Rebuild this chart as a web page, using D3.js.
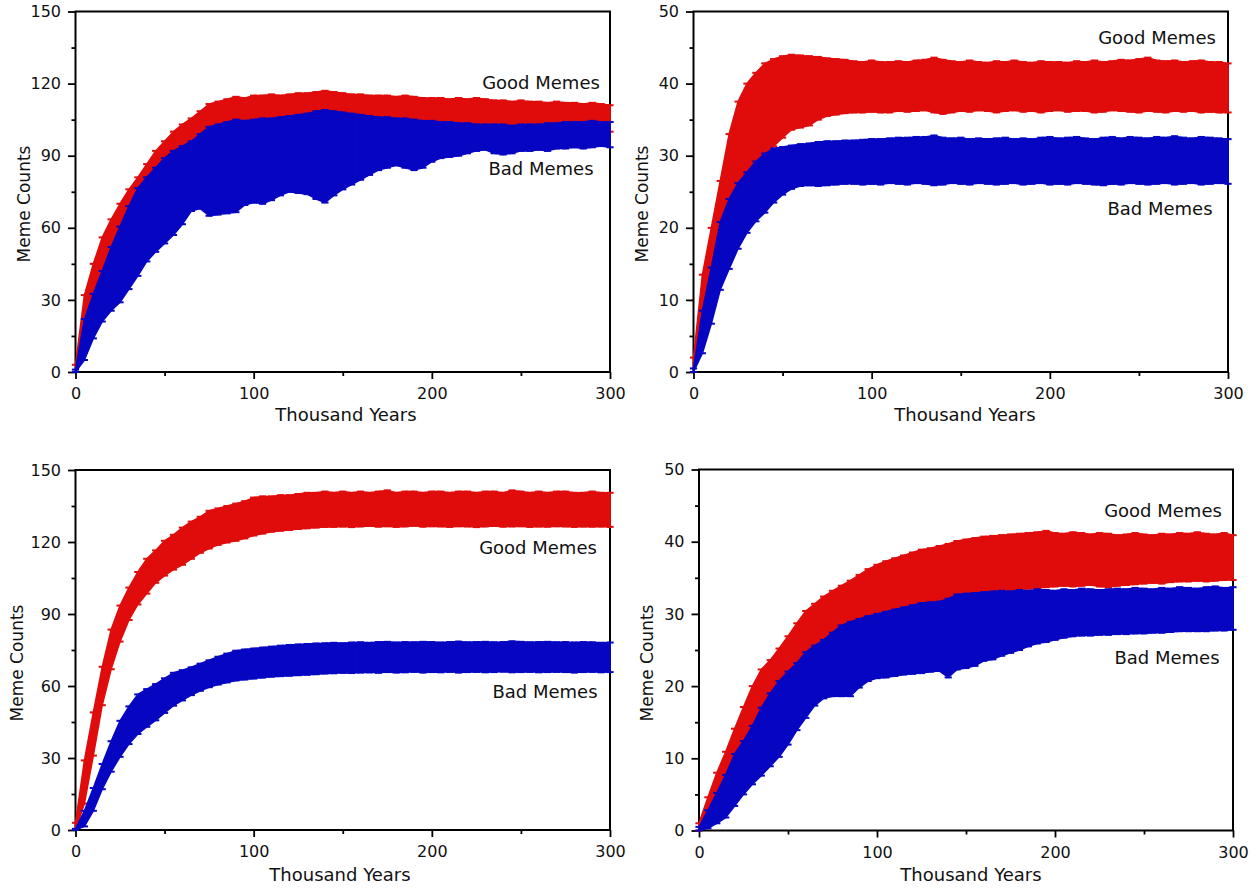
<!DOCTYPE html>
<html><head><meta charset="utf-8">
<script src="https://cdn.jsdelivr.net/npm/d3@7"></script>
<style>
body{margin:0;background:#fff;}
svg text{font-family:"DejaVu Sans",sans-serif;fill:#111;}
</style>
</head><body>
<svg id="chart" width="1257" height="890"></svg>
<script>
// ---- data (thousand years; lower / upper ends of error bars) ----
const years = [0,5,10,15,20,25,30,35,40,45,50,55,60,65,70,75,80,85,90,95,100,105,110,115,120,125,130,135,140,145,150,155,160,165,170,175,180,185,190,195,200,205,210,215,220,225,230,235,240,245,250,255,260,265,270,275,280,285,290,295,300];
const seriesNames = ["Good Memes","Bad Memes"];
const xTickLabels = [0,100,200,300];
const yTicksLarge = [0,30,60,90,120,150];
const yTicksSmall = [0,10,20,30,40,50];

// panel A (top left)
const aGoodHi = [3,32,45,56,63.5,70,76,81,86.5,92,
 96,100,103,105.5,108.5,111.5,112.5,113.5,114.5,114,
 115,115,115.5,115,115.5,116,116,116.5,117,116.5,
 116,115.5,115.5,115,115,115,114.5,115,114.5,114,
 114,114,113.5,114,113.5,114,113.5,113,113,112.5,
 113,112.5,112.5,112,112.5,112,112,111.5,112,111.5,
 111];
const aGoodLo = [0,17,27,36,44,51,58,65,70,74,
 80,84,87,90,93,96,98,99,100,100,
 101,101,101.5,101.5,102,102,102.5,103,103.5,103,
 103,102.5,102,102,101.5,101.5,101,101,100.5,100.5,
 100.5,100,100,99.5,99.5,99.5,99,99,99,98.5,
 99,99,99,99.5,99.5,100,100,100,100.5,100,
 100];
const aBadHi = [1,22,32.5,42,52,60.5,69,76.5,81,85,
 89,92,94,96,99,102,103,104,105,104.5,
 105,105.5,105.5,106,106.5,107,107.5,108.5,109,108.5,
 108,107.5,107,106.5,106,106,105.5,105.5,105,104.5,
 104.5,104,104,103.5,103.5,103,103,103,103,102.5,
 103,103,103,103.5,103.5,104,104,104,104.5,104,
 104];
const aBadLo = [0,5,14,21,25.5,29,34.5,40,46,50,
 53.5,57,61.5,67,68,65,65.5,66,66.5,69.5,
 70.5,70,71.5,73.5,75,74.5,74,72,70.5,73.5,
 76,78,80,82,84,85,86,85,84,85,
 87.5,89,89.5,90,91,92,92.5,91,90.5,91,
 92,92,92.5,92,93,93,93.5,93,93.5,94,
 93.5];

// panel B (top right)
const bGoodHi = [2,13.5,20,26.5,33,37.5,40,41.5,42.8,43.4,
 43.8,44,43.9,43.8,43.7,43.5,43.4,43.3,43.1,43,
 43.2,43,43,43.1,43,43.2,43.3,43.6,43.3,43.1,
 43,43.2,43,42.9,43.1,43,43.2,43,42.9,43.1,
 43,43,42.9,43.1,43,43.2,43,43.1,43.3,43.2,
 43.4,43.6,43.2,43.1,43.2,43,43.1,43.2,43,43,
 42.8];
const bGoodLo = [0,8,12,16,21,24.5,27.5,29.3,30.4,31.3,
 32.5,33.6,33.9,34.2,35,35.5,35.7,35.9,36,36,
 36.1,36,36,36.2,36.1,36.2,36.3,36,35.8,36,
 36.2,36.1,36.3,36.2,36,36.2,36.3,36.1,36.2,36,
 36.2,36.3,36.1,36.2,36.2,36,36.1,36.3,36.2,36.1,
 36,36.2,36.1,36,36.2,36.1,36.2,36,36.1,36,
 36];
const bBadHi = [0.5,8.5,14.5,20.8,24,26.2,27.7,29.2,30.3,31,
 31.2,31.4,31.6,31.7,31.9,32,32,32.1,32.1,32.2,
 32.3,32.3,32.4,32.5,32.5,32.6,32.6,32.8,32.5,32.4,
 32.5,32.3,32.4,32.3,32.4,32.5,32.3,32.4,32.3,32.5,
 32.6,32.4,32.5,32.6,32.4,32.3,32.5,32.6,32.4,32.6,
 32.5,32.4,32.6,32.5,32.7,32.5,32.4,32.6,32.5,32.4,
 32.3];
const bBadLo = [0,2.6,6.7,11.4,14.3,17.1,19.3,20.9,22.1,23.5,
 24.6,25.4,25.8,25.9,25.8,25.9,26,26.1,26.1,26,
 26.1,26,26.2,26.1,26,26.2,26.1,25.9,26,26.2,
 26.1,26,26.2,26.1,26,26.1,26.2,26,26.1,26.2,
 26,26.1,26,26.2,26.1,26,25.9,26.1,26,26.2,
 26.1,26,26.1,26.2,26,26.1,26.2,26,26.1,26.2,
 26.1];

// panel C (bottom left)
const cGoodHi = [3,29,49,68,83.5,93.5,101,107.5,113,116.5,
 120.5,123,126,128.5,130.5,133,134,135,136,137,
 138.5,139,139,139.5,139.5,140,140.5,140.5,141,140.5,
 141,140.5,141,140.5,141,141.5,140.5,141,141,140.5,
 141,141,140.5,141,141,140.5,141,141,140.5,141.5,
 141,140.5,141,140.5,141,141,140.5,140.5,141,140.5,
 140.5];
const cGoodLo = [0,11,31,52,67,78.5,87.5,94,98.5,103,
 106,108.5,110.5,113,115.5,117.3,118.8,119.8,120.5,121.5,
 122.7,123.5,124.3,124.7,125,125.4,125.7,126,126.3,126.3,
 126.5,126.2,126.5,126.7,126.4,126.6,126.3,126.5,126.8,126.4,
 126.6,126.5,126.3,126.6,126.5,126.2,126.5,126.7,126.4,126.5,
 126.6,126.3,126.5,126.4,126.6,126.5,126.3,126.5,126.4,126.5,
 126.3];
const cBadHi = [0.5,8,17.5,27.5,37,45.5,51.5,56.5,58.7,60.8,
 63.2,65.5,66.6,67.8,69.3,70.7,72.2,73.5,74.7,75.2,
 75.6,76,76.4,76.8,77.1,77.3,77.5,77.7,77.8,78,
 77.8,78.1,78.2,78,78.3,78.4,78.1,78.3,78.2,78.4,
 78.3,78.1,78.3,78.5,78.2,78.3,78.4,78.2,78.3,78.6,
 78.4,78.2,78.3,78.4,78.2,78.3,78.1,78.3,78.2,78,
 78.1];
const cBadLo = [0,1.5,8,17,24.3,30.5,35.8,40,43,45.7,
 48.8,51.8,54,56.2,58,59.5,60.6,61.5,62.3,62.7,
 63.1,63.5,63.9,64.1,64.3,64.5,64.7,64.9,65.2,65.3,
 65.5,65.4,65.6,65.7,65.5,65.8,65.6,65.7,65.9,65.6,
 65.8,65.7,65.9,65.6,65.8,65.9,65.7,65.8,66,65.7,
 65.8,65.9,65.7,65.8,65.9,65.8,65.6,65.8,65.9,65.7,
 65.8];

// panel D (bottom right)
const dGoodHi = [1,4.6,8,10.9,14.1,17.1,20,22.3,23.6,25.2,
 26.9,28.7,30.4,31.4,32.4,33.2,33.9,34.6,35.4,36.2,
 36.8,37.3,37.7,38.1,38.5,38.9,39.1,39.4,39.7,40.1,
 40.3,40.5,40.7,40.8,40.9,41,41.1,41.2,41.3,41.5,
 41.2,41.1,41.3,41.2,41,41.2,41.1,40.9,41,41.2,
 41,40.9,41.1,41,41.2,41.1,41.3,41.1,41,41.2,
 40.9];
const dGoodLo = [0,1.5,3,5,7.5,10,12.5,15,17.5,19.5,
 21.5,23,24.5,25.5,26.5,27.3,28,28.6,29.2,29.8,
 30.2,30.4,30.6,30.8,31,31.3,31.5,31.7,32,32.3,
 32.6,32.9,33.1,33.2,33.3,33.3,33.4,33.5,33.6,33.7,
 33.8,33.9,33.8,33.9,34,33.8,33.7,33.9,34,34.1,
 34.2,34.3,34.2,34.4,34.5,34.5,34.6,34.5,34.6,34.7,
 34.7];
const dBadHi = [0.5,2.8,5.2,7.7,10.6,12.4,14.5,17,19,20.7,
 22,23.2,24.7,25.6,26.4,27.4,28.4,28.9,29.3,29.7,
 30,30.3,30.6,30.9,31.2,31.5,31.6,31.7,32.1,32.7,
 32.8,32.9,33,33.1,33.2,33.1,33.3,33.2,33.4,33.3,
 33.2,33.4,33.3,33.5,33.4,33.3,33.4,33.5,33.4,33.6,
 33.5,33.4,33.6,33.5,33.7,33.6,33.5,33.7,33.8,33.6,
 33.7];
const dBadLo = [0,0.3,1,1.8,3.4,5,6.4,7.6,8.9,10.2,
 11.9,13.9,15.6,17.3,18.3,18.6,18.6,18.6,19.8,20.7,
 21.1,21.2,21.4,21.6,21.7,21.8,22,22.1,21.2,22.3,
 22.5,22.8,23.5,23.7,24.2,24.6,25,25.5,25.9,26.1,
 26.4,26.7,26.9,27,27,27.1,27.1,27.2,27.2,27.3,
 27.3,27.4,27.4,27.5,27.6,27.6,27.6,27.6,27.7,27.7,
 27.8];

// ---- layout ----
const RED = "#e00c0c", BLUE = "#0606c2";
const panels = [
  {x0:75.5, x1:610, y0:11.5, y1:372, yMax:150, yTicks:yTicksLarge,
   good:[aGoodLo,aGoodHi], bad:[aBadLo,aBadHi],
   goodLab:[541,83], badLab:[541,169], xTitle:[346,415], yTitle:[24,204]},
  {x0:693.5, x1:1228, y0:11.5, y1:372, yMax:50, yTicks:yTicksSmall,
   good:[bGoodLo,bGoodHi], bad:[bBadLo,bBadHi],
   goodLab:[1157,38], badLab:[1160,209], xTitle:[965,415], yTitle:[642,204]},
  {x0:75.5, x1:610, y0:470, y1:830, yMax:150, yTicks:yTicksLarge,
   good:[cGoodLo,cGoodHi], bad:[cBadLo,cBadHi],
   goodLab:[538,548], badLab:[545,692], xTitle:[340,875], yTitle:[17,663]},
  {x0:699, x1:1233, y0:469.5, y1:830.5, yMax:50, yTicks:yTicksSmall,
   good:[dGoodLo,dGoodHi], bad:[dBadLo,dBadHi],
   goodLab:[1163,511], badLab:[1167,658], xTitle:[971,875], yTitle:[647,663]}
];

const svg = d3.select("#chart");

function styleAxis(g){
  g.select(".domain").remove();
  g.selectAll(".tick line").attr("stroke","#000").attr("stroke-width",1.8);
  g.selectAll(".tick text").attr("font-size",16).attr("font-family","DejaVu Sans").attr("fill","#111");
}

panels.forEach(p => {
  const x = d3.scaleLinear().domain([0,300]).range([p.x0,p.x1]);
  const y = d3.scaleLinear().domain([0,p.yMax]).range([p.y1,p.y0]);
  const g = svg.append("g");

  // frame
  g.append("rect").attr("x",p.x0).attr("y",p.y0)
    .attr("width",p.x1-p.x0).attr("height",p.y1-p.y0)
    .attr("fill","none").attr("stroke","#000").attr("stroke-width",2);

  // y axis: major + minor
  const half = p.yTicks[1]/2;
  const minorY = p.yTicks.slice(0,-1).map(v => v + half);
  g.append("g").attr("transform",`translate(${p.x0},0)`)
    .call(d3.axisLeft(y).tickValues(p.yTicks).tickSize(7.5).tickPadding(7).tickFormat(d3.format("d")))
    .call(styleAxis);
  g.append("g").attr("transform",`translate(${p.x0},0)`)
    .call(d3.axisLeft(y).tickValues(minorY).tickSize(4).tickFormat(""))
    .call(styleAxis);

  // x axis: major + minor
  g.append("g").attr("transform",`translate(0,${p.y1})`)
    .call(d3.axisBottom(x).tickValues(xTickLabels).tickSize(7).tickPadding(9).tickFormat(d3.format("d")))
    .call(styleAxis);
  g.append("g").attr("transform",`translate(0,${p.y1})`)
    .call(d3.axisBottom(x).tickValues([50,150,250]).tickSize(4).tickFormat(""))
    .call(styleAxis);

  // error bars: dense band of bars with caps
  const capW = 3.6;
  [[p.good, RED],[p.bad, BLUE]].forEach(([[lo,hi],col]) => {
    const s = g.append("g");
    const pts = years.map((d,i) => ({k:d, lo:lo[i], hi:hi[i]}));
    s.append("path").datum(pts)
      .attr("d", d3.area().x(d => x(d.k)).y0(d => y(d.lo)).y1(d => y(d.hi)))
      .attr("fill", col).attr("stroke", col).attr("stroke-width", 1.5)
      .attr("stroke-linejoin","round");
    s.selectAll("line.bar").data(pts).join("line").attr("class","bar")
      .attr("x1", d => x(d.k)).attr("x2", d => x(d.k))
      .attr("y1", d => y(d.lo)).attr("y2", d => y(d.hi))
      .attr("stroke", col).attr("stroke-width", 1.2);
    const caps = [];
    pts.forEach(d => { caps.push([d.k,d.hi]); caps.push([d.k,d.lo]); });
    s.selectAll("line.cap").data(caps).join("line").attr("class","cap")
      .attr("x1", d => x(d[0]) - capW)
      .attr("x2", d => x(d[0]) + capW)
      .attr("y1", d => y(d[1]))
      .attr("y2", d => y(d[1]))
      .attr("stroke", col).attr("stroke-width", 2);
  });

  // series labels
  g.append("text").attr("x",p.goodLab[0]).attr("y",p.goodLab[1]).attr("dy","0.36em")
    .attr("text-anchor","middle").attr("font-size",18).text(seriesNames[0]);
  g.append("text").attr("x",p.badLab[0]).attr("y",p.badLab[1]).attr("dy","0.36em")
    .attr("text-anchor","middle").attr("font-size",18).text(seriesNames[1]);

  // axis titles
  g.append("text").attr("x",p.xTitle[0]).attr("y",p.xTitle[1]).attr("dy","0.36em")
    .attr("text-anchor","middle").attr("font-size",18).text("Thousand Years");
  g.append("text").attr("transform",`translate(${p.yTitle[0]},${p.yTitle[1]}) rotate(-90)`)
    .attr("dy","0.36em").attr("text-anchor","middle").attr("font-size",17).text("Meme Counts");
});
</script>
</body></html>
